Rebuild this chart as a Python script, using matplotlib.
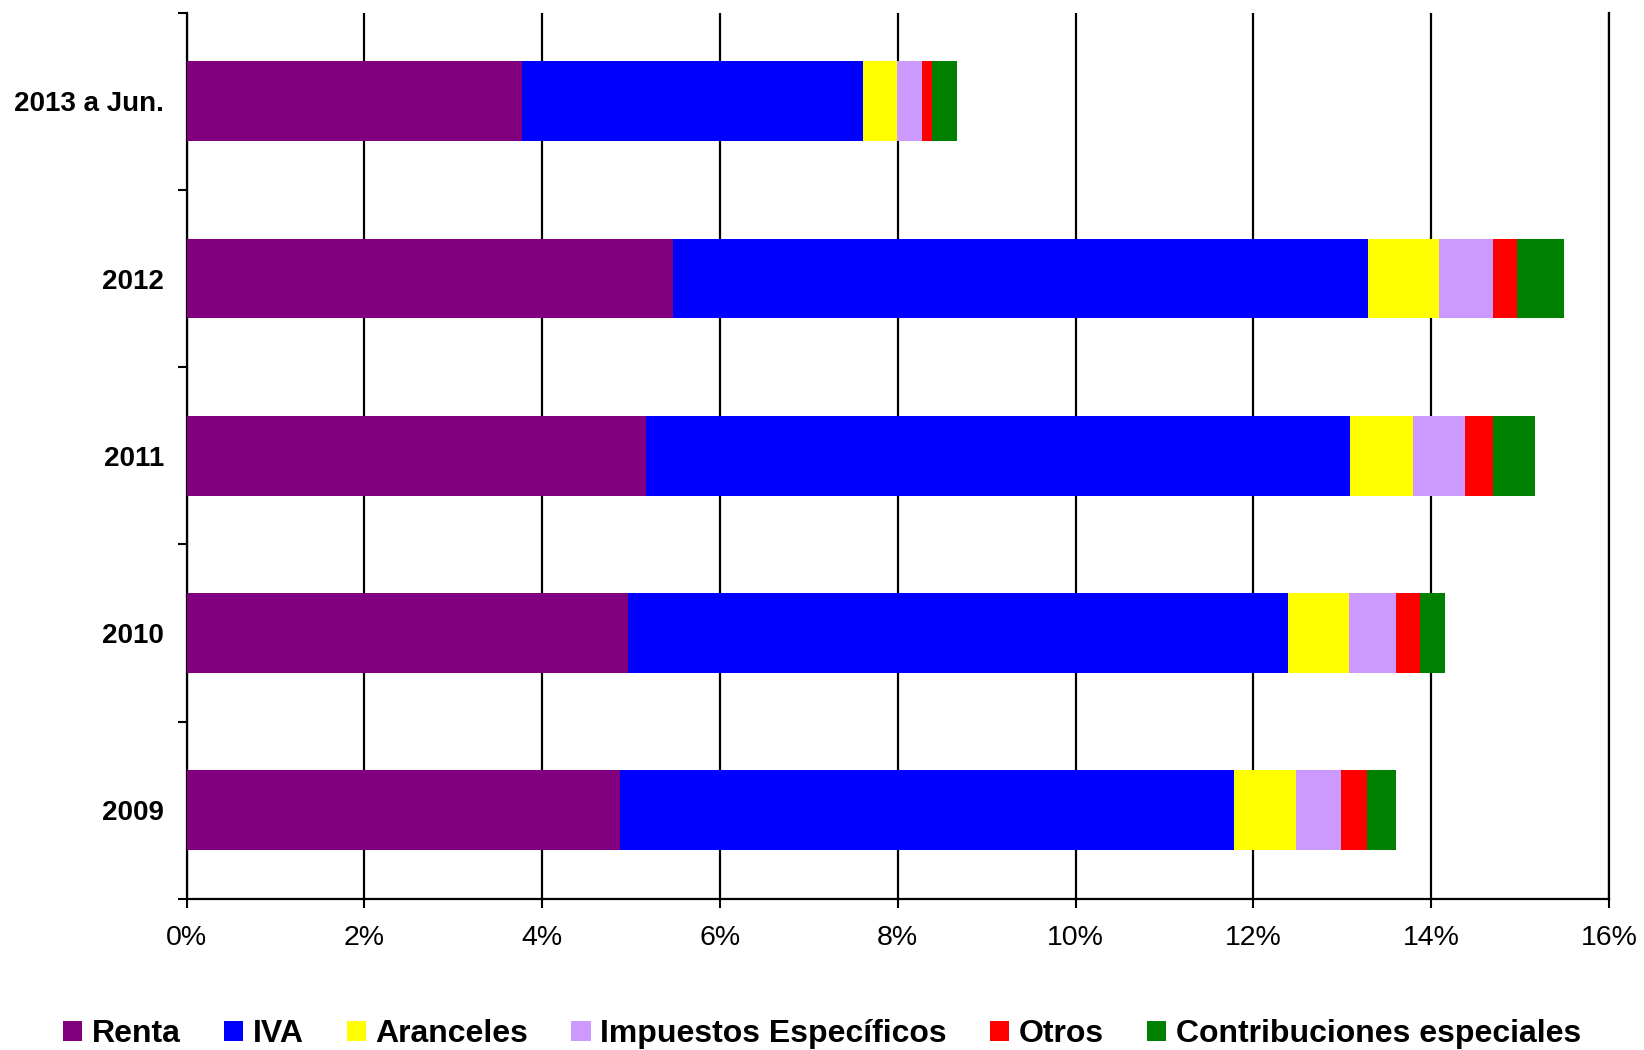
import numpy as np
import matplotlib.pyplot as plt
from matplotlib.patches import Patch
from matplotlib.ticker import FuncFormatter

plt.rcParams['font.family'] = ['Liberation Sans', 'DejaVu Sans']

years = ['2009', '2010', '2011', '2012', '2013 a Jun.']
series = ['Renta', 'IVA', 'Aranceles', 'Impuestos Específicos', 'Otros',
          'Contribuciones especiales']
renta = [4.87, 4.97, 5.17, 5.47, 3.77]
iva = [6.91, 7.42, 7.92, 7.82, 3.84]
aranceles = [0.70, 0.69, 0.71, 0.80, 0.38]
especificos = [0.51, 0.52, 0.58, 0.61, 0.28]
otros = [0.29, 0.27, 0.32, 0.27, 0.11]
contribuciones = [0.32, 0.29, 0.47, 0.52, 0.29]
colors = ['#800080', '#0000FF', '#FFFF00', '#CC99FF', '#FF0000', '#008000']

values = [renta, iva, aranceles, especificos, otros, contribuciones]

fig = plt.figure(figsize=(16.44, 10.5), dpi=100)
ax = fig.add_axes([0.1135, 0.1438, 0.8652, 0.8442])

y = np.arange(len(years))
left = np.zeros(len(years))
for vals, name, c in zip(values, series, colors):
    ax.barh(y, vals, left=left, height=0.45, color=c, label=name, zorder=3)
    left += np.array(vals)

ax.set_xlim(0, 16)
ax.set_ylim(-0.5, len(years) - 0.5)
ax.set_xticks(np.arange(0, 17, 2))
ax.xaxis.set_major_formatter(FuncFormatter(lambda v, p: f'{v:.0f}%'))
ax.set_yticks(y)
ax.set_yticklabels(years, fontsize=20, fontweight='bold')
ax.set_yticks(np.arange(-0.5, len(years), 1), minor=True)
ax.tick_params(axis='y', which='major', length=0, pad=16)
ax.tick_params(axis='y', which='minor', length=6.5, width=1.5, direction='out')
ax.tick_params(axis='x', labelsize=20.5, length=6.5, width=1.5, pad=12)

ax.grid(axis='x', color='black', linewidth=1.6, zorder=1)
for s in ['left', 'bottom', 'right']:
    ax.spines[s].set_linewidth(1.6)
ax.spines['top'].set_visible(False)

handles = [Patch(facecolor=c, label=n) for c, n in zip(colors, series)]
fig.legend(handles=handles, loc='center', bbox_to_anchor=(0.5, 0.015), ncol=6,
           frameon=False, prop={'size': 23, 'weight': 'bold'},
           handlelength=0.6, handleheight=0.6, handletextpad=0.3,
           columnspacing=1.35)

fig.savefig('out.png', dpi=100)
